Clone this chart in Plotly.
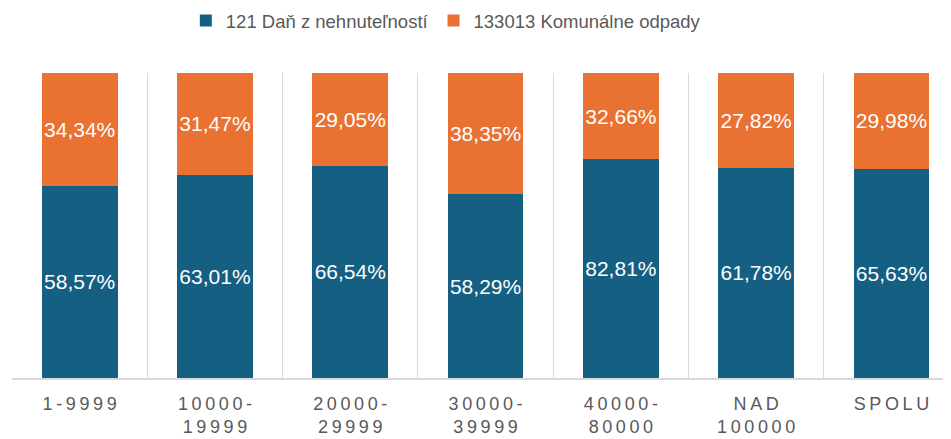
import plotly.graph_objects as go

categories = ["1-9999", "10000-19999", "20000-29999", "30000-39999", "40000-80000", "NAD 100000", "SPOLU"]
tick_lines = [["1-9999"], ["10000-", "19999"], ["20000-", "29999"], ["30000-", "39999"],
              ["40000-", "80000"], ["NAD", "100000"], ["SPOLU"]]
dan = [58.57, 63.01, 66.54, 58.29, 82.81, 61.78, 65.63]
odpady = [34.34, 31.47, 29.05, 38.35, 32.66, 27.82, 29.98]
series_names = ["121 Daň z nehnuteľností", "133013 Komunálne odpady"]
colors = ["#156082", "#E97132"]


def fmt(v):
    return f"{v:.2f}".replace(".", ",") + "%"


def spaced(lines):
    return "<br>".join("\u2009".join(list(l)) for l in lines)


ticktext = [spaced(t) for t in tick_lines]

fig = go.Figure()
for vals, name, col in zip([dan, odpady], series_names, colors):
    fig.add_trace(go.Bar(
        x=categories, y=vals, name=name,
        marker=dict(color=col, line=dict(width=0)),
        text=[fmt(v) for v in vals], texttemplate="%{text}",
        textposition="inside", insidetextanchor="middle", textangle=0,
        constraintext="none",
        textfont=dict(family="Liberation Sans", size=21, color="white"),
        width=0.56,
    ))

# page body has an 8px margin; the figure is sized/positioned to compensate
fig.update_layout(
    barmode="stack", barnorm="percent",
    width=943, height=431,
    margin=dict(l=4, r=0, t=65, b=61),
    plot_bgcolor="white", paper_bgcolor="white",
    showlegend=True,
    legend=dict(orientation="h", x=0.462, xanchor="center",
                yref="container", y=0.97, yanchor="middle",
                font=dict(family="Liberation Sans", size=18.5, color="#595959"),
                traceorder="normal", itemwidth=30),
)
fig.update_xaxes(
    type="category", range=[-0.5, 6.44], automargin=False,
    tickmode="array", tickvals=categories, ticktext=ticktext,
    tickson="boundaries", showgrid=True, gridcolor="#d9d9d9", gridwidth=1,
    showline=True, linecolor="#d9d9d9", linewidth=2, ticks="",
    tickfont=dict(family="Liberation Sans", size=18, color="#595959"),
    ticklabelstandoff=8,
)
fig.update_yaxes(range=[0, 100], visible=False, showgrid=False, automargin=False)

fig.write_html("out.html")
